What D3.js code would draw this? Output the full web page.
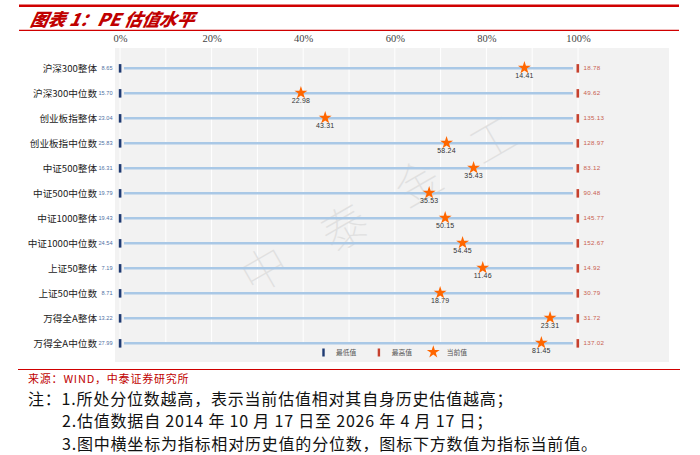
<!DOCTYPE html>
<html><head><meta charset="utf-8">
<script src="https://cdn.jsdelivr.net/npm/d3@7/dist/d3.min.js"></script>
<style>
html,body{margin:0;padding:0;background:#fff;}
svg{display:block;}
</style></head>
<body>
<svg id="c" width="700" height="455"></svg>
<script>
const categories = ["沪深300整体","沪深300中位数","创业板指整体","创业板指中位数","中证500整体","中证500中位数","中证1000整体","中证1000中位数","上证50整体","上证50中位数","万得全A整体","万得全A中位数"];
const minValues = [8.65,15.70,23.04,25.83,16.31,19.79,19.43,24.54,7.19,8.71,13.22,27.99];
const maxValues = [18.78,49.62,135.13,128.97,83.12,90.48,145.77,152.67,14.92,30.79,31.72,137.02];
const currentValues = [14.41,22.98,43.31,58.24,35.43,35.53,50.15,54.45,11.46,18.79,23.31,81.45];
const percentiles = [88.3,39.5,44.8,71.3,77.2,67.5,71.0,74.8,79.2,69.9,93.9,92.0];
const xTicks = [0,20,40,60,80,100];
const gridTicks = [0,10,20,30,40,50,60,70,80,90,100];
const legendItems = ["最低值","最高值","当前值"];
const watermark = ["中","泰","金","工"];

const CJK = "'Noto Sans CJK SC','Noto Sans',sans-serif";
const svg = d3.select("#c");

// header
svg.append("line").attr("x1",19).attr("x2",679).attr("y1",5.8).attr("y2",5.8).attr("stroke","#d00000").attr("stroke-width",2.6);
svg.append("line").attr("x1",19).attr("x2",679).attr("y1",30.3).attr("y2",30.3).attr("stroke","#d00000").attr("stroke-width",1.2);
svg.append("text").attr("x",30).attr("y",26).attr("fill","#c00000").attr("font-family",CJK)
  .attr("font-size",17.5).attr("font-weight","900").attr("font-style","italic")
  .attr("transform","skewX(-12) translate(5,0)")
  .text("图表 1：PE 估值水平");

// plot
const x = d3.scaleLinear().domain([0,100]).range([120,578]);
const y = d3.scalePoint().domain(categories).range([68.3,343.3]);

svg.append("rect").attr("x",115).attr("y",48).attr("width",554).attr("height",314).attr("fill","#f2f2f2");

svg.append("g").selectAll("line").data(gridTicks).join("line")
  .attr("x1",d=>x(d)).attr("x2",d=>x(d)).attr("y1",48).attr("y2",343)
  .attr("stroke","#ffffff").attr("stroke-width",1);

// watermark
const wmPos = [[263,267],[343,225],[417,180],[492,137]];
watermark.forEach((ch,i)=>{
  svg.append("text").attr("transform",`translate(${wmPos[i][0]},${wmPos[i][1]}) rotate(-30)`)
    .attr("text-anchor","middle").attr("dominant-baseline","central")
    .attr("font-family",CJK).attr("font-size",46).attr("font-weight",100)
    .attr("fill","#e0e0e0").text(ch);
});

// top axis labels
const ax = svg.append("g").attr("transform","translate(0,45)")
  .call(d3.axisTop(x).tickValues(xTicks).tickSize(0).tickFormat(d=>d+"%"));
ax.select(".domain").remove();
ax.selectAll("text").attr("font-family","'Liberation Serif','DejaVu Serif',serif").attr("font-size",10.5).attr("fill","#444");

const rows = svg.append("g").selectAll("g").data(categories).join("g");

rows.append("line")
  .attr("x1",x(0)+4).attr("x2",x(100)-5)
  .attr("y1",d=>y(d)).attr("y2",d=>y(d))
  .attr("stroke","#a9c8e6").attr("stroke-width",2.4);

rows.append("rect").attr("x",x(0)-1.2).attr("y",d=>y(d)-4.2).attr("width",2.6).attr("height",8.5).attr("fill","#1f3b73");
rows.append("rect").attr("x",x(100)-1.5).attr("y",d=>y(d)-4.2).attr("width",2.6).attr("height",8.5).attr("fill","#c6412e");

rows.append("text").attr("x",97).attr("y",d=>y(d)).attr("dy","0.35em").attr("text-anchor","end")
  .attr("font-family",CJK).attr("font-size",9.6).attr("fill","#222").text(d=>d);

rows.append("text").attr("x",112.5).attr("y",d=>y(d)).attr("dy","0.35em").attr("text-anchor","end")
  .attr("font-family","'Liberation Sans',Arial,sans-serif").attr("font-size",5.6).attr("fill","#4f6fa3")
  .text((d,i)=>minValues[i].toFixed(2));

rows.append("text").attr("x",583.5).attr("y",d=>y(d)).attr("dy","0.35em").attr("text-anchor","start")
  .attr("font-family","'Liberation Sans',Arial,sans-serif").attr("font-size",6.2).attr("fill","#c8604f")
  .attr("letter-spacing",0.3)
  .text((d,i)=>maxValues[i].toFixed(2));

const star = d3.symbol().type(d3.symbolStar).size(52);
rows.append("path").attr("d",star)
  .attr("transform",(d,i)=>`translate(${x(percentiles[i])},${y(d)-0.5})`)
  .attr("fill","#ff6600");

rows.append("text").attr("x",(d,i)=>x(percentiles[i])).attr("y",d=>y(d)+9.5)
  .attr("text-anchor","middle").attr("font-family","'Liberation Sans',Arial,sans-serif")
  .attr("font-size",7).attr("fill","#333").attr("letter-spacing",0.2)
  .text((d,i)=>currentValues[i].toFixed(2));

// legend
const lg = svg.append("g");
const ly = 352.5;
lg.append("rect").attr("x",322.3).attr("y",ly-4).attr("width",2.4).attr("height",8).attr("fill","#1f3b73");
lg.append("rect").attr("x",377.7).attr("y",ly-4).attr("width",2.4).attr("height",8).attr("fill","#c6412e");
lg.append("path").attr("d",d3.symbol().type(d3.symbolStar).size(52)).attr("transform",`translate(433.3,${ly-0.5})`).attr("fill","#ff6600");
const lx = [336,391.7,446.7];
legendItems.forEach((t,i)=>{
  lg.append("text").attr("x",lx[i]).attr("y",ly).attr("dy","0.35em").attr("font-family",CJK)
    .attr("font-size",6.8).attr("fill","#555").text(t);
});

// footer
svg.append("line").attr("x1",18).attr("x2",680).attr("y1",369.5).attr("y2",369.5).attr("stroke","#d00000").attr("stroke-width",1.2);
svg.append("text").attr("x",28).attr("y",382.5).attr("font-family",CJK).attr("font-size",11).attr("fill","#c00000")
  .attr("letter-spacing",0.8)
  .text("来源：WIND，中泰证券研究所");
const notes = [
  [28,"注：1.所处分位数越高，表示当前估值相对其自身历史估值越高；"],
  [62,"2.估值数据自 2014 年 10 月 17 日至 2026 年 4 月 17 日；"],
  [62,"3.图中横坐标为指标相对历史值的分位数，图标下方数值为指标当前值。"]
];
notes.forEach((n,i)=>{
  svg.append("text").attr("x",n[0]).attr("y",404.5+i*22.5).attr("font-family",CJK).attr("font-size",16).attr("fill","#111")
    .attr("letter-spacing",0.8)
    .text(n[1]);
});
</script>
</body></html>
